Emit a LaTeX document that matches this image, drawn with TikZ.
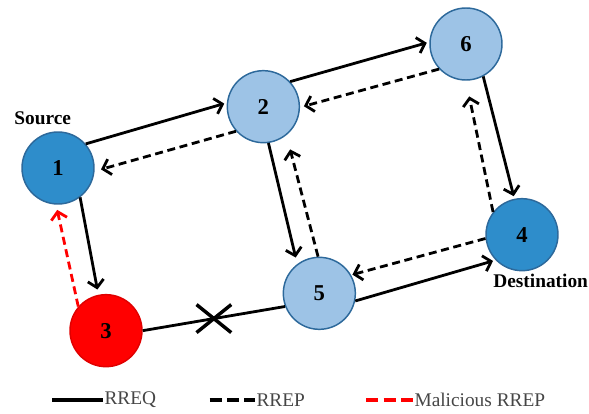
\documentclass[tikz,border=0pt]{standalone}
\usepackage{fontspec}
\setmainfont{Liberation Serif}
\usepackage{xcolor}
\usetikzlibrary{positioning, arrows.meta, shapes.misc}

\definecolor{darkblue}{RGB}{46,141,203}
\definecolor{lightblue}{RGB}{157,195,230}
\definecolor{rimblue}{RGB}{45,105,155}
\definecolor{keygray}{RGB}{70,70,70}

\tikzset{
    host/.style={circle, draw=rimblue, line width=1.1pt, minimum size=54pt, inner sep=0pt, font=\fontsize{17}{17}\selectfont\bfseries},
    src/.style={host, fill=darkblue},
    relay/.style={host, fill=lightblue},
    bad/.style={host, fill=red, draw=red!88!black},
    rreq/.style={line width=2.1pt, shorten >=2pt, -{Straight Barb[length=5.5pt,width=12pt]}},
    rrep/.style={rreq, dash pattern=on 6pt off 3.5pt},
    fake/.style={rrep, red},
    blocked/.style={draw, cross out, line width=2.6pt, minimum width=26pt, minimum height=21pt, inner sep=0pt, outer sep=0pt},
    tag/.style={font=\fontsize{14.5}{14.5}\selectfont\bfseries, inner sep=0pt},
    key/.style={font=\fontsize{14.5}{14.5}\selectfont, text=keygray, anchor=west, inner sep=1pt},
}

\begin{document}
\begin{tikzpicture}[on grid]
    \useasboundingbox (-43.5pt,-184.5pt) rectangle (398.25pt,126pt); % page frame
    \node [src] (n1) at (0,0) {1}; % source host
    \node [tag, above left = 37pt and 11.5pt of n1] (srclabel) {Source}; % text over host 1
    \node [relay, above right = 46pt and 154pt of n1] (n2) {2}; % upper relay
    \node [relay, above right = 47pt and 152pt of n2] (n6) {6}; % top right relay
    \node [relay, below right = 140pt and 42pt of n2] (n5) {5}; % lower relay
    \node [src, below right = 143pt and 42pt of n6] (n4) {4}; % destination host
    \node [tag, below right = 35pt and 14pt of n4] (dstlabel) {Destination}; % text under host 4
    \node [bad, below right = 122pt and 36pt of n1] (n3) {3}; % malicious host
    % route requests and replies
    \draw [rreq] (n1.41) -- (n2.174);
    \draw [rrep, shorten >=5pt] (n2.222) -- (n1.355);
    \draw [rreq] (n2.43) -- (n6.177);
    \draw [rrep, shorten >=3pt] (n6.223) -- (n2.359);
    \draw [rreq] (n6.298) -- (n4.102);
    \draw [rrep, shorten >=12pt] (n4.142) -- (n6.270);
    \draw [rreq, shorten >=5pt] (n2.278) -- (n5.127);
    \draw [rrep, shorten >=11pt] (n5.92) -- (n2.309);
    \draw [rreq] (n5.348) -- (n4.224);
    \draw [rrep, shorten >=1pt] (n4.186) -- (n5.30);
    \draw [rreq, shorten >=4pt] (n1.307) -- (n3.102);
    \draw [fake, shorten >=4pt] (n3.139) -- (n1.267);
    \draw [line width=2.1pt] (n3.east) -- node [blocked, pos=0.5] (cut) {} (n5.201); % broken link
    % legend
    \node [key] (k1) at (33.75pt,-174pt) {RREQ};
    \node [key] (k2) at (147.75pt,-174pt) {RREP};
    \node [key] (k3) at (266.25pt,-174pt) {Malicious RREP};
    \coordinate [left = 38pt of k1.west] (k1s);
    \coordinate [left = 34pt of k2.west] (k2s);
    \coordinate [left = 35pt of k3.west] (k3s);
    \draw [line width=2.8pt] (k1s) -- (k1.west);
    \draw [line width=2.8pt, dash pattern=on 9pt off 4pt] (k2s) -- (k2.west);
    \draw [line width=2.8pt, dash pattern=on 9pt off 4pt, red] (k3s) -- (k3.west);
\end{tikzpicture}
\end{document}
